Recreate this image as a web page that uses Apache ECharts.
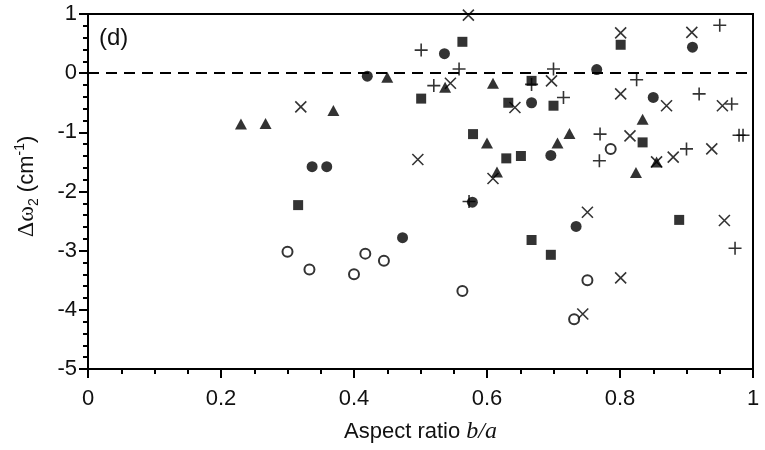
<!DOCTYPE html>
<html>
<head>
<meta charset="utf-8">
<script src="https://cdn.jsdelivr.net/npm/echarts@6/dist/echarts.min.js"></script>
<style>html,body{margin:0;padding:0;background:#fff;}#c{width:765px;height:450px;}</style>
</head>
<body>
<div id="c"></div>
<script>
const xTicks = [0, 0.2, 0.4, 0.6, 0.8, 1];
const yTicks = [-5, -4, -3, -2, -1, 0, 1];
const panelLabel = '(d)';
const xName = 'Aspect ratio ';
const xNameItalic = 'b/a';

const squares = [[0.316,-2.23],[0.501,-0.43],[0.563,0.53],[0.579,-1.03],[0.629,-1.44],[0.632,-0.50],[0.651,-1.40],[0.667,-0.13],[0.667,-2.82],[0.696,-3.07],[0.700,-0.55],[0.801,0.48],[0.834,-1.17],[0.889,-2.48]];
const circles = [[0.337,-1.58],[0.359,-1.58],[0.420,-0.05],[0.473,-2.78],[0.536,0.33],[0.578,-2.18],[0.667,-0.50],[0.696,-1.39],[0.734,-2.59],[0.765,0.06],[0.850,-0.41],[0.909,0.44]];
const triangles = [[0.230,-0.86],[0.267,-0.85],[0.369,-0.63],[0.450,-0.07],[0.537,-0.24],[0.600,-1.18],[0.609,-0.17],[0.615,-1.67],[0.706,-1.18],[0.724,-1.02],[0.824,-1.68],[0.834,-0.78],[0.855,-1.50]];
const openCircles = [[0.300,-3.02],[0.333,-3.32],[0.400,-3.40],[0.417,-3.05],[0.445,-3.17],[0.563,-3.68],[0.731,-4.16],[0.751,-3.50],[0.786,-1.28]];
const crosses = [[0.320,-0.57],[0.496,-1.46],[0.545,-0.17],[0.572,0.98],[0.609,-1.78],[0.642,-0.58],[0.697,-0.13],[0.744,-4.07],[0.751,-2.35],[0.801,0.68],[0.801,-0.35],[0.801,-3.46],[0.815,-1.06],[0.855,-1.50],[0.870,-0.55],[0.880,-1.42],[0.908,0.69],[0.938,-1.28],[0.954,-0.55],[0.957,-2.49]];
const pluses = [[0.501,0.39],[0.520,-0.21],[0.558,0.07],[0.573,-2.17],[0.667,-0.19],[0.700,0.07],[0.715,-0.41],[0.769,-1.48],[0.770,-1.03],[0.825,-0.11],[0.900,-1.28],[0.919,-0.35],[0.950,0.81],[0.968,-0.52],[0.973,-2.96],[0.979,-1.05],[0.985,-1.05]];
const zeroLine = 0;

const chart = echarts.init(document.getElementById('c'), null, {renderer: 'canvas'});
const F = 'Liberation Sans';
const strokeStyle = {color: 'none', borderColor: '#000', borderWidth: 1.6};
const option = {
  animation: false,
  backgroundColor: '#fff',
  grid: {left: 88, right: 12, top: 14, bottom: 81, show: true, borderColor: '#000', borderWidth: 2, backgroundColor: 'transparent'},
  xAxis: {
    type: 'value', min: xTicks[0], max: xTicks[xTicks.length - 1], interval: 0.2,
    name: '{n|' + xName + '}{i|' + xNameItalic + '}',
    nameLocation: 'middle', nameGap: 51,
    nameTextStyle: {rich: {n: {fontFamily: F, fontSize: 22, color: '#111'}, i: {fontFamily: 'Liberation Serif', fontStyle: 'italic', fontSize: 24, color: '#111'}}},
    axisLine: {show: true, onZero: false, lineStyle: {color: '#000', width: 2}},
    axisTick: {show: true, inside: false, length: 9, lineStyle: {color: '#000', width: 2}},
    minorTick: {show: true, splitNumber: 4, length: 5, lineStyle: {color: '#000', width: 2}},
    splitLine: {show: false},
    axisLabel: {fontFamily: F, fontSize: 22, color: '#111', margin: 19, formatter: v => String(Math.round(v * 10) / 10)}
  },
  yAxis: {
    type: 'value', min: yTicks[0], max: yTicks[yTicks.length - 1], interval: 1,
    name: '{g|Δω}{s|2}{t| (cm}{p|-1}{t|)}',
    nameLocation: 'middle', nameGap: 47,
    nameTextStyle: {padding: [0, 0, 0, 10], rich: {
      g: {fontFamily: 'Liberation Serif', fontSize: 24, color: '#111', lineHeight: 28},
      s: {fontFamily: F, fontSize: 14, color: '#111', verticalAlign: 'bottom', lineHeight: 15},
      t: {fontFamily: F, fontSize: 22, color: '#111', lineHeight: 28},
      p: {fontFamily: F, fontSize: 14, color: '#111', verticalAlign: 'top', lineHeight: 15}
    }},
    axisLine: {show: true, onZero: false, lineStyle: {color: '#000', width: 2}},
    axisTick: {show: true, inside: false, length: 9, lineStyle: {color: '#000', width: 2}},
    minorTick: {show: true, splitNumber: 5, length: 5, lineStyle: {color: '#000', width: 2}},
    splitLine: {show: false},
    axisLabel: {fontFamily: F, fontSize: 22, color: '#111', margin: 11}
  },
  graphic: [{type: 'text', left: 99, top: 26, style: {text: panelLabel, fontFamily: F, fontSize: 24, fill: '#111'}}],
  series: [
    {type: 'scatter', name: 'plus', data: pluses, symbol: 'path://M0,5L10,5M5,0L5,10', symbolSize: 13, itemStyle: strokeStyle,
     markLine: {silent: true, symbol: 'none', label: {show: false}, lineStyle: {color: '#000', width: 2, type: [11, 7]}, data: [{yAxis: zeroLine}]}},
    {type: 'scatter', name: 'cross', data: crosses, symbol: 'path://M0,0L10,10M10,0L0,10', symbolSize: 11, itemStyle: strokeStyle},
    {type: 'scatter', name: 'open', data: openCircles, symbol: 'circle', symbolSize: 10, itemStyle: {color: '#fff', borderColor: '#000', borderWidth: 2}},
    {type: 'scatter', name: 'tri', data: triangles, symbol: 'triangle', symbolSize: [12, 11], itemStyle: {color: '#000'}},
    {type: 'scatter', name: 'circ', data: circles, symbol: 'circle', symbolSize: 11, itemStyle: {color: '#000'}},
    {type: 'scatter', name: 'sq', data: squares, symbol: 'rect', symbolSize: 10, itemStyle: {color: '#000'}}
  ]
};
chart.setOption(option);
</script>
</body>
</html>
